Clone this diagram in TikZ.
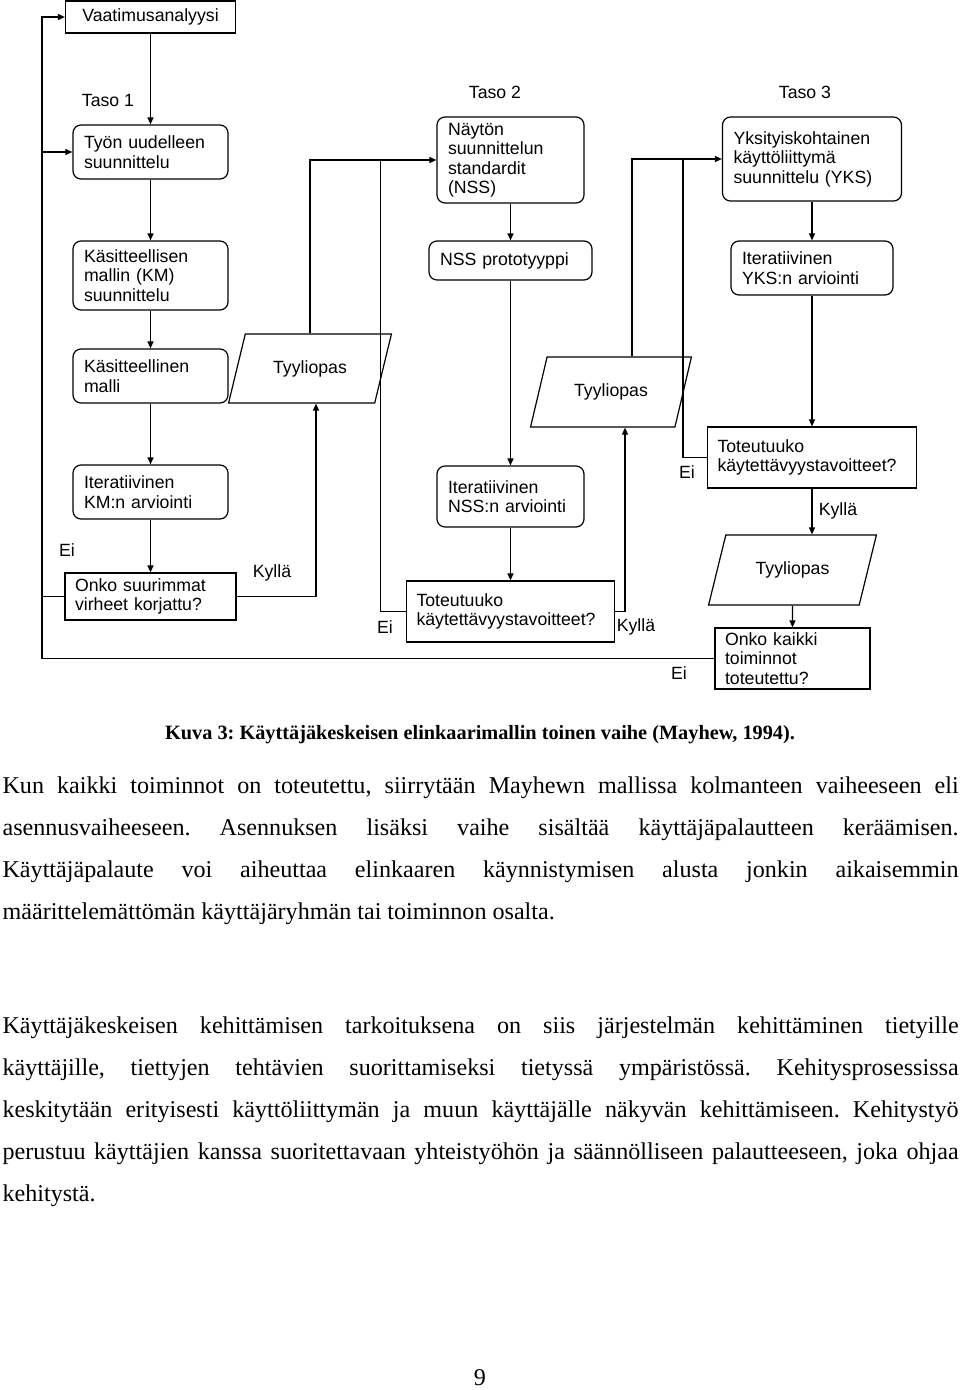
\documentclass[tikz,border=0pt]{standalone}
\usepackage{fontspec}
\setmainfont{Liberation Serif}
\newfontfamily\boxfont{Liberation Sans}
\usetikzlibrary{shapes.geometric,arrows.meta}

\begin{document}
\begin{tikzpicture}[x=1pt, y=-1pt, line width=1.2pt,
  every node/.style={font=\boxfont\fontsize{17.7}{19.5}\selectfont, inner sep=0pt},
  rbox/.style={draw, rounded corners=8pt, align=left, inner xsep=11pt, inner ysep=2pt},
  sbox/.style={draw, align=left, inner xsep=10pt, inner ysep=2pt},
  guide/.style={draw, trapezium, trapezium left angle=60, trapezium right angle=120, trapezium stretches=true},
  body/.style={anchor=base west, font=\rmfamily\fontsize{24.1}{42}\selectfont},
  >={Triangle[length=7pt,width=6pt]}]
  \useasboundingbox (0,0) rectangle (960,1390);
  \frenchspacing

  % Level 1
  \node[sbox, align=center, minimum width=170pt, minimum height=32pt] (va) at (150.5,17) {Vaatimusanalyysi};
  \node[rbox, text width=133pt, minimum height=54pt] (ty) at (150.5,152) {Työn uudelleen\\suunnittelu};
  \node[rbox, text width=133pt, minimum height=69pt] (kms) at (150.5,275.5) {Käsitteellisen\\mallin (KM)\\suunnittelu};
  \node[rbox, text width=133pt, minimum height=54pt] (km) at (150.5,376) {Käsitteellinen\\malli};
  \node[rbox, text width=133pt, minimum height=54pt] (kmarv) at (150.5,492) {Iteratiivinen\\KM:n arviointi};
  \node[sbox, text width=151pt, minimum height=47pt] (q1) at (150.5,596.5) {Onko suurimmat\\virheet korjattu?};

  % Level 2
  \node[rbox, text width=125pt, minimum height=86pt] (nss) at (510.5,160) {Näytön\\suunnittelun\\standardit\\(NSS)};
  \node[rbox, text width=141pt, minimum height=39pt] (np) at (510.5,260.5) {NSS prototyyppi};
  \node[rbox, text width=125pt, minimum height=61pt] (narv) at (510.5,496.5) {Iteratiivinen\\NSS:n arviointi};
  \node[sbox, text width=188pt, minimum height=61pt] (q2) at (510.5,611.5) {Toteutuuko\\käytettävyystavoitteet?};

  % Level 3
  \node[rbox, text width=157pt, minimum height=84pt] (yks) at (812,159) {Yksityiskohtainen\\käyttöliittymä\\suunnittelu (YKS)};
  \node[rbox, text width=140pt, minimum height=54pt] (yarv) at (812,268) {Iteratiivinen\\YKS:n arviointi};
  \node[sbox, text width=189pt, minimum height=61pt] (q3) at (812,457.5) {Toteutuuko\\käytettävyystavoitteet?};
  \node[sbox, text width=135pt, minimum height=61pt, inner ysep=1pt] (q4) at (792.5,658.5) {Onko kaikki\\toiminnot\\toteutettu?};

  % Style guides
  \node[guide, minimum width=164pt, minimum height=69pt] (g1) at (310,368.5) {Tyyliopas};
  \node[guide, minimum width=162pt, minimum height=70pt] (g2) at (611,392) {Tyyliopas};
  \node[guide, minimum width=169pt, minimum height=70pt] (g3) at (792.5,570) {Tyyliopas};

  % Labels
  \node (t1) at (108,100) {Taso 1};
  \node (t2) at (495,92) {Taso 2};
  \node (t3) at (805,92) {Taso 3};
  \node (e1) at (67,550) {Ei};
  \node (k1) at (272,573) {Kyllä};
  \node (e2) at (385,627) {Ei};
  \node (k2) at (636,627) {Kyllä};
  \node (e3) at (687,472) {Ei};
  \node (k3) at (838,511) {Kyllä};
  \node (e4) at (679,673) {Ei};

  % Flow
  \coordinate (loop) at (42,658);
  \foreach \a/\b in {va/ty, ty/kms, kms/km, km/kmarv, kmarv/q1} \draw[->] (\a) -- (\b);
  \foreach \a/\b in {nss/np, np/narv, narv/q2} \draw[->] (\a) -- (\b);
  \foreach \a/\b in {yks/yarv, yarv/q3, g3/q4} \draw[->] (\a) -- (\b);
  \draw[->] (q3.south) -- (q3.south |- g3.north);

  % Feedback
  \draw[->] (q4.west) -- (q4.west -| loop) -- (va.west -| loop) -- (va.west);
  \draw[->] (ty.west -| loop) -- (ty.west);
  \draw (q1.west) -- (q1.west -| loop);
  \draw[->] (q1.east) -| ([xshift=6pt]g1.south);
  \draw[->] (g1.north) |- (nss.west);
  \draw (q2.west) -| ([xshift=-56pt]nss.west);
  \draw[->] (q2.east) -| ([xshift=14pt]g2.south);
  \draw[->] ([xshift=21pt]g2.north) |- (yks.west);
  \draw (q3.west) -| ([xshift=-39pt]yks.west);

  % Text
  \node[body, anchor=base, font=\rmfamily\bfseries\fontsize{20.3}{24}\selectfont] (cap) at (480,739) {Kuva 3: Käyttäjäkeskeisen elinkaarimallin toinen vaihe (Mayhew, 1994).};
  \node[body] (p1a) at (2,793) {\makebox[956pt][s]{Kun kaikki toiminnot on toteutettu, siirrytään Mayhewn mallissa kolmanteen vaiheeseen eli}};
  \node[body] (p1b) at (2,835) {\makebox[956pt][s]{asennusvaiheeseen. Asennuksen lisäksi vaihe sisältää käyttäjäpalautteen keräämisen.}};
  \node[body] (p1c) at (2,877) {\makebox[956pt][s]{Käyttäjäpalaute voi aiheuttaa elinkaaren käynnistymisen alusta jonkin aikaisemmin}};
  \node[body] (p1d) at (2,919) {määrittelemättömän käyttäjäryhmän tai toiminnon osalta.};
  \node[body] (p2a) at (2,1033) {\makebox[956pt][s]{Käyttäjäkeskeisen kehittämisen tarkoituksena on siis järjestelmän kehittäminen tietyille}};
  \node[body] (p2b) at (2,1075) {\makebox[956pt][s]{käyttäjille, tiettyjen tehtävien suorittamiseksi tietyssä ympäristössä. Kehitysprosessissa}};
  \node[body] (p2c) at (2,1117) {\makebox[956pt][s]{keskitytään erityisesti käyttöliittymän ja muun käyttäjälle näkyvän kehittämiseen. Kehitystyö}};
  \node[body] (p2d) at (2,1159) {\makebox[956pt][s]{perustuu käyttäjien kanssa suoritettavaan yhteistyöhön ja säännölliseen palautteeseen, joka ohjaa}};
  \node[body] (p2e) at (2,1201) {kehitystä.};
  \node[body, anchor=base] (pg) at (480,1385) {9};
\end{tikzpicture}
\end{document}
